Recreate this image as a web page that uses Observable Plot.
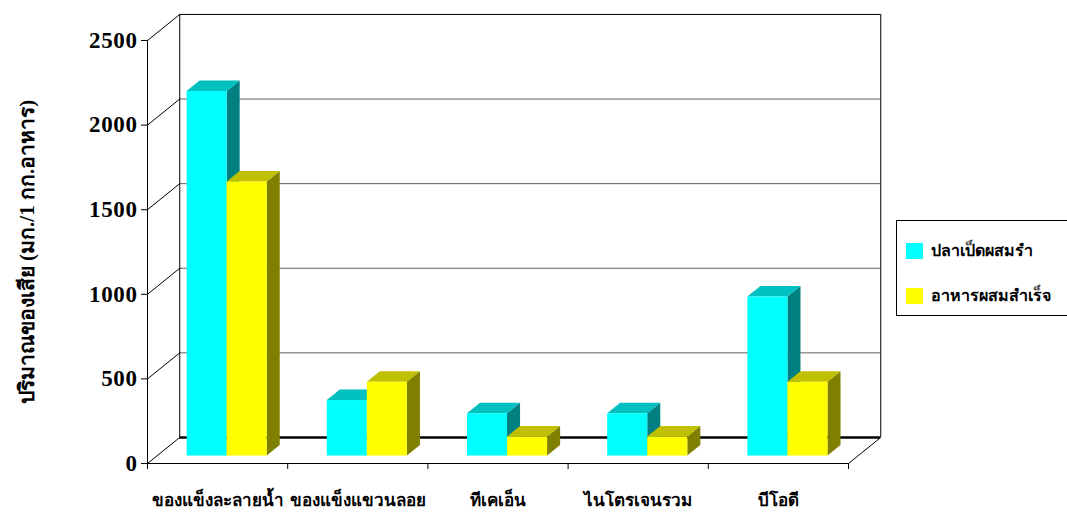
<!DOCTYPE html>
<html>
<head>
<meta charset="utf-8">
<script src="https://cdn.jsdelivr.net/npm/d3@7"></script>
<script src="https://cdn.jsdelivr.net/npm/@observablehq/plot@0.6"></script>
<style>
  html, body { margin: 0; padding: 0; background: #fff; overflow: hidden; width: 1067px; height: 513px; }
  #wrap { position: relative; width: 1067px; height: 513px; }
  #legend { position: absolute; left: 896px; top: 220px; width: 200px; height: 94px; border: 1px solid #000; background: #fff;
            font-family: "Liberation Serif", serif; font-weight: bold; font-size: 16px; }
  .item { position: absolute; left: 9px; display: flex; align-items: center; white-space: nowrap; }
  .sw { width: 17px; height: 16px; margin-right: 8px; }
  g[aria-label="y-axis tick label"] text { letter-spacing: 0.6px; }
</style>
</head>
<body>
<div id="wrap"></div>
<script>
// ---- data ----
const categories = ["ของแข็งละลายน้ำ", "ของแข็งแขวนลอย", "ทีเคเอ็น", "ไนโตรเจนรวม", "บีโอดี"];
const seriesNames = ["ปลาเป็ดผสมรำ", "อาหารผสมสำเร็จ"];
const trashFish = [2155, 328, 250, 250, 940];
const readyFeed = [1620, 436, 112, 112, 436];
const yTicks = [0, 500, 1000, 1500, 2000, 2500];
const yTitle = "ปริมาณของเสีย (มก./1 กก.อาหาร)";

const colors = [
  {front: "#00FFFF", top: "#00C0C0", side: "#008080"},
  {front: "#FFFF00", top: "#C0C000", side: "#808000"}
];

// oblique depth (data units)
const DX = 0.23, DY = 154;      // full wall depth
const BX0 = 0.068, BY0 = 44;    // bar front offset into depth
const BDX = 0.093, BDY = 62;    // bar depth
const yMax = 2500, nCat = categories.length;

const series = [trashFish, readyFeed];
const bars = [];
series.forEach((vals, s) => vals.forEach((v, i) => {
  const xl = i + BX0 + 0.2143 + s * 0.2857;
  const xr = xl + 0.2857;
  bars.push({id: `${s}-${i}`, s, i, v, xl, xr});
}));

function sideFaces(s) {
  return bars.filter(b => b.s === s).flatMap(b => [
    {id: b.id, x: b.xr, y1: BY0, y2: BY0 + b.v},
    {id: b.id, x: b.xr + BDX, y1: BY0 + BDY, y2: BY0 + b.v + BDY}
  ]);
}
function topFaces(s) {
  return bars.filter(b => b.s === s).flatMap(b => [
    {id: b.id, y: BY0 + b.v, x1: b.xl, x2: b.xr},
    {id: b.id, y: BY0 + b.v + BDY, x1: b.xl + BDX, x2: b.xr + BDX}
  ]);
}

const barMarks = [0, 1].flatMap(s => [
  Plot.areaY(sideFaces(s), {x: "x", y1: "y1", y2: "y2", z: "id", fill: colors[s].side}),
  Plot.areaX(topFaces(s), {y: "y", x1: "x1", x2: "x2", z: "id", fill: colors[s].top}),
  Plot.rect(bars.filter(b => b.s === s), {x1: "xl", x2: "xr", y1: BY0, y2: d => BY0 + d.v, fill: colors[s].front})
]);

const inner = yTicks.filter(t => t > 0 && t < yMax);

const chart = Plot.plot({
  width: 1067, height: 513,
  marginLeft: 147, marginRight: 219, marginTop: 40, marginBottom: 50,
  x: {domain: [0, nCat], axis: null},
  y: {domain: [0, yMax], axis: null},
  style: {fontFamily: "'Liberation Serif', serif", fontWeight: "bold", background: "#fff", overflow: "visible"},
  marks: [
    // back wall gridlines
    Plot.ruleY(inner, {y: d => d + DY, x1: DX, x2: nCat + DX, stroke: "#606060", strokeWidth: 1}),
    // left wall diagonals
    Plot.link(yTicks, {x1: 0, y1: d => d, x2: DX, y2: d => d + DY, stroke: "#000", strokeWidth: 1}),
    // back wall frame
    Plot.ruleY([yMax + DY], {x1: DX, x2: nCat + DX, stroke: "#000", strokeWidth: 1}),
    Plot.ruleX([DX, nCat + DX], {y1: DY, y2: yMax + DY, stroke: "#000", strokeWidth: 1}),
    // floor
    Plot.link([nCat], {x1: d => d, y1: 0, x2: d => d + DX, y2: DY, stroke: "#000", strokeWidth: 1}),
    Plot.ruleY([DY], {x1: DX, x2: nCat + DX, stroke: "#000", strokeWidth: 2.5}),
    // bars
    ...barMarks,
    // front axes
    Plot.ruleX([0], {y1: 0, y2: yMax, stroke: "#000"}),
    Plot.ruleY([0], {x1: 0, x2: nCat, stroke: "#000"}),
    Plot.axisY({ticks: yTicks, tickFormat: d3.format("d"), tickSize: 6, tickPadding: 4, fontSize: 23, fontWeight: "bold", label: null, stroke: "#000"}),
    Plot.axisX({ticks: d3.range(nCat + 1), tickSize: 6, tickFormat: () => "", label: null, stroke: "#000"}),
    Plot.text(categories, {x: (d, i) => i + 0.5, y: 0, dy: 37, fontSize: 17, fontWeight: "bold", fill: "#000"}),
    Plot.text([yTitle], {frameAnchor: "left", textAnchor: "middle", dx: -120, rotate: -90, fontSize: 21, fontWeight: "bold", fill: "#000"})
  ]
});

const wrap = document.getElementById("wrap");
wrap.appendChild(chart);

const legend = document.createElement("div");
legend.id = "legend";
seriesNames.forEach((name, s) => {
  const item = document.createElement("div");
  item.className = "item";
  item.style.top = (s === 0 ? 17 : 62) + "px";
  const sw = document.createElement("div");
  sw.className = "sw";
  sw.style.background = colors[s].front;
  const t = document.createElement("span");
  t.textContent = name;
  item.appendChild(sw); item.appendChild(t);
  legend.appendChild(item);
});
wrap.appendChild(legend);
</script>
</body>
</html>
